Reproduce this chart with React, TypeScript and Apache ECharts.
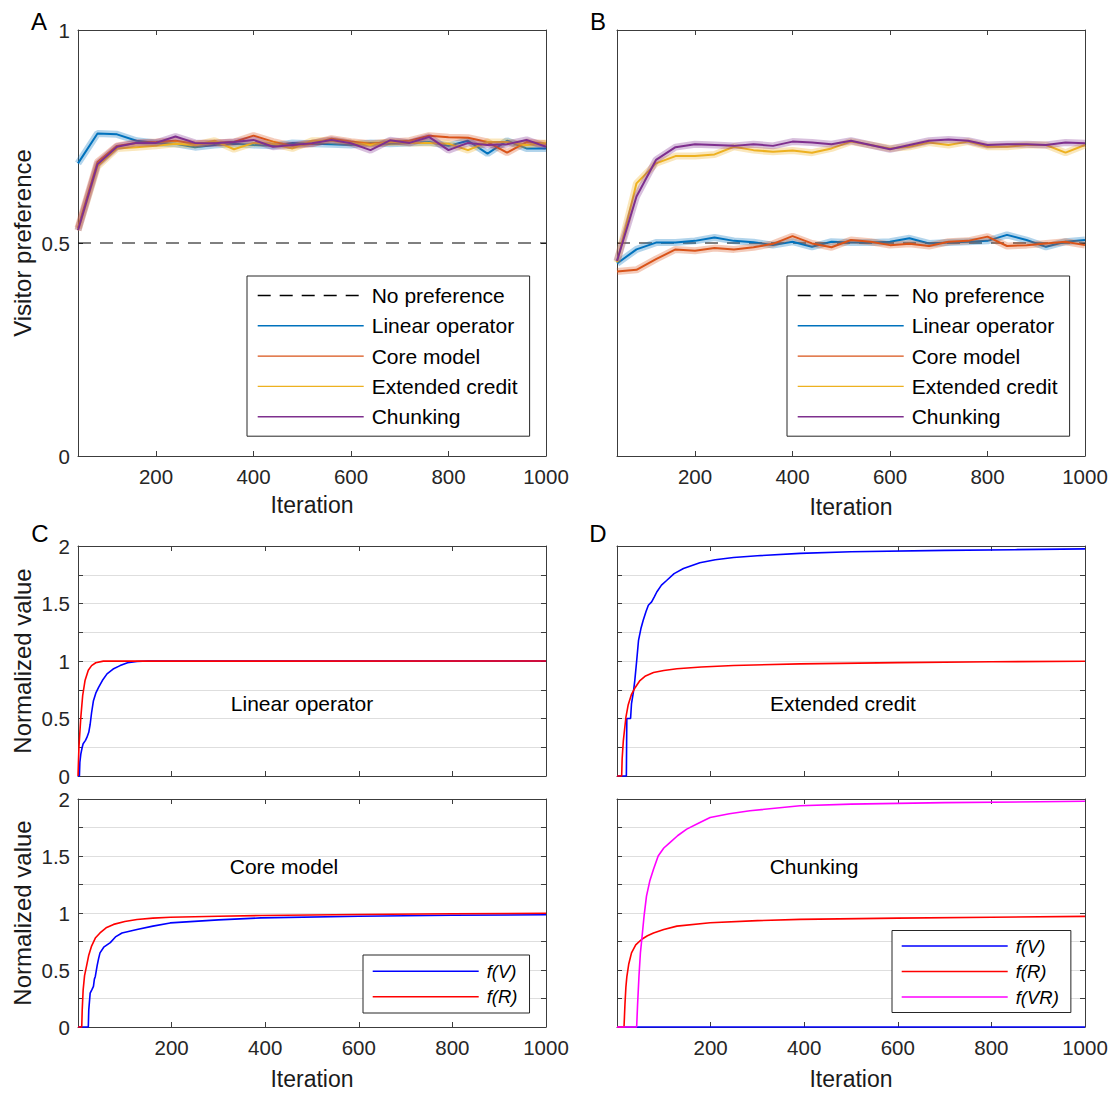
import React, { useEffect, useRef } from "react";
import * as echarts from "echarts";

// ---------- data ----------
const iterations = [40, 80, 120, 160, 200, 240, 280, 320, 360, 400, 440, 480, 520, 560, 600, 640, 680, 720, 760, 800, 840, 880, 920, 960, 1000];

// Panel A (visitor preference)
const aLinear = [0.687, 0.757, 0.755, 0.740, 0.735, 0.733, 0.725, 0.730, 0.733, 0.730, 0.728, 0.735, 0.733, 0.732, 0.730, 0.735, 0.733, 0.735, 0.737, 0.728, 0.740, 0.710, 0.740, 0.722, 0.722];
const aCore = [0.535, 0.690, 0.728, 0.735, 0.737, 0.740, 0.733, 0.735, 0.737, 0.752, 0.738, 0.728, 0.733, 0.745, 0.738, 0.733, 0.737, 0.740, 0.752, 0.748, 0.747, 0.737, 0.712, 0.737, 0.733];
const aExtended = [0.530, 0.680, 0.722, 0.725, 0.728, 0.733, 0.730, 0.740, 0.720, 0.735, 0.733, 0.722, 0.740, 0.740, 0.735, 0.730, 0.737, 0.735, 0.735, 0.733, 0.718, 0.737, 0.737, 0.730, 0.735];
const aChunking = [0.530, 0.685, 0.726, 0.735, 0.735, 0.750, 0.735, 0.734, 0.737, 0.742, 0.726, 0.730, 0.734, 0.742, 0.734, 0.718, 0.741, 0.735, 0.749, 0.718, 0.735, 0.730, 0.732, 0.742, 0.726];

// Panel B (visitor preference)
const bLinear = [0.452, 0.485, 0.501, 0.501, 0.505, 0.513, 0.505, 0.502, 0.495, 0.503, 0.491, 0.503, 0.501, 0.501, 0.503, 0.511, 0.499, 0.501, 0.503, 0.505, 0.519, 0.507, 0.491, 0.503, 0.507];
const bCore = [0.433, 0.437, 0.462, 0.485, 0.482, 0.488, 0.485, 0.490, 0.498, 0.516, 0.499, 0.490, 0.507, 0.503, 0.495, 0.498, 0.493, 0.503, 0.505, 0.515, 0.493, 0.495, 0.499, 0.503, 0.495];
const bExtended = [0.455, 0.640, 0.687, 0.704, 0.704, 0.708, 0.726, 0.718, 0.714, 0.717, 0.712, 0.722, 0.738, 0.730, 0.722, 0.726, 0.736, 0.730, 0.738, 0.726, 0.726, 0.730, 0.730, 0.712, 0.730];
const bChunking = [0.458, 0.609, 0.695, 0.725, 0.732, 0.730, 0.728, 0.732, 0.728, 0.738, 0.736, 0.732, 0.740, 0.730, 0.720, 0.730, 0.740, 0.743, 0.740, 0.730, 0.732, 0.732, 0.730, 0.736, 0.734];

const noPreference = [[40, 0.5], [1000, 0.5]];

// Panel C top: Linear operator  [iteration, value]
const cLinearV = [[0, 0], [3, 0], [4, 0.12], [6, 0.19], [9, 0.25], [11, 0.28], [16, 0.31], [19, 0.335], [23, 0.38], [26, 0.45], [29, 0.55], [33, 0.655], [38, 0.72], [44, 0.77], [52, 0.83], [62, 0.888], [75, 0.93], [90, 0.96], [106, 0.985], [126, 0.996], [150, 1.0], [1000, 1.0]];
const cLinearR = [[0, 0], [2, 0.25], [6, 0.51], [10, 0.7], [15, 0.83], [22, 0.92], [29, 0.96], [38, 0.985], [54, 0.999], [1000, 1.0]];

// Panel C bottom: Core model
const cCoreV = [[0, 0], [22, 0], [23, 0.15], [26, 0.297], [30, 0.33], [33, 0.356], [35, 0.42], [37, 0.444], [41, 0.54], [44, 0.6], [47, 0.65], [55, 0.7], [69, 0.74], [80, 0.79], [94, 0.825], [110, 0.84], [126, 0.855], [160, 0.885], [197, 0.913], [300, 0.94], [391, 0.957], [600, 0.972], [800, 0.98], [1000, 0.985]];
const cCoreR = [[0, 0], [8, 0], [9, 0.15], [11, 0.326], [14, 0.45], [18, 0.53], [23, 0.63], [29, 0.71], [37, 0.78], [47, 0.825], [60, 0.87], [76, 0.9], [100, 0.925], [126, 0.943], [160, 0.955], [197, 0.963], [300, 0.972], [391, 0.978], [600, 0.987], [800, 0.993], [1000, 0.998]];

// Panel D top: Extended credit
const dExtendedV = [[0, 0], [20, 0], [21, 0.5], [29, 0.5], [31, 0.63], [35, 0.73], [38, 0.83], [42, 1.0], [46, 1.18], [51, 1.28], [56, 1.354], [62, 1.43], [67, 1.485], [74, 1.514], [80, 1.56], [85, 1.6], [95, 1.66], [106, 1.7], [122, 1.76], [142, 1.805], [177, 1.855], [210, 1.88], [249, 1.9], [300, 1.915], [391, 1.936], [500, 1.95], [700, 1.962], [850, 1.968], [1000, 1.975]];
const dExtendedR = [[0, 0], [10, 0], [11, 0.15], [13.5, 0.306], [19, 0.509], [24, 0.62], [31, 0.71], [39, 0.77], [49, 0.83], [61, 0.87], [78, 0.9], [100, 0.918], [128, 0.932], [180, 0.948], [249, 0.961], [391, 0.975], [600, 0.986], [800, 0.993], [1000, 0.998]];

// Panel D bottom: Chunking
const dChunkingV = [[0, 0], [1000, 0]];
const dChunkingR = [[0, 0], [15, 0], [17, 0.2], [19, 0.35], [21, 0.44], [25, 0.55], [31, 0.65], [40, 0.72], [53, 0.77], [65, 0.8], [78, 0.825], [100, 0.855], [128, 0.885], [199, 0.915], [300, 0.933], [391, 0.944], [600, 0.955], [800, 0.963], [1000, 0.97]];
const dChunkingVR = [[0, 0], [42, 0], [44, 0.2], [47, 0.45], [50, 0.65], [53, 0.77], [58, 0.98], [63, 1.148], [70, 1.28], [78, 1.383], [88, 1.5], [100, 1.57], [113, 1.618], [130, 1.68], [149, 1.736], [175, 1.79], [199, 1.838], [240, 1.87], [284, 1.897], [391, 1.941], [500, 1.955], [700, 1.968], [1000, 1.98]];

const prefNames = ["No preference", "Linear operator", "Core model", "Extended credit", "Chunking"];
const prefColors = ["#000000", "#0072BD", "#D95319", "#EDB120", "#7E2F8E"];
const prefXTicks = [200, 400, 600, 800, 1000];
const normXTicks = [200, 400, 600, 800, 1000];

// ---------- styling ----------
const FONT = "'Liberation Sans', Arial, Helvetica, sans-serif";
const AXIS_COLOR = "#3c3c3c";
const TEXT_COLOR = "#262626";

const grids = [
  { left: 78, top: 30, width: 468, height: 426 }, // A
  { left: 617, top: 30, width: 468, height: 426 }, // B
  { left: 78, top: 546, width: 468, height: 230 }, // C top
  { left: 617, top: 546, width: 468, height: 230 }, // D top
  { left: 78, top: 799, width: 468, height: 228 }, // C bottom
  { left: 617, top: 799, width: 468, height: 228 }, // D bottom
];

function buildOption() {
  const xAxis: any[] = [];
  const yAxis: any[] = [];
  const lineAxis = { show: true, onZero: false, lineStyle: { color: AXIS_COLOR, width: 1 } };
  const labelBase = { fontSize: 20.5, color: TEXT_COLOR, fontFamily: FONT };

  function addX(gi: number, min: number, max: number, ticks: number[], labels: boolean, name?: string, nameGap?: number) {
    const base: any = {
      type: "value",
      gridIndex: gi,
      min,
      max,
      axisLine: lineAxis,
      splitLine: { show: false },
      axisTick: { show: true, inside: true, length: 5, customValues: ticks, lineStyle: { color: AXIS_COLOR } },
    };
    xAxis.push({
      ...base,
      position: "bottom",
      axisLabel: { show: labels, customValues: ticks, margin: 10, ...labelBase, formatter: (v: number) => String(v) },
      name: name || "",
      nameLocation: "middle",
      nameGap: nameGap || 0,
      nameMoveOverlap: false,
      nameTextStyle: { fontSize: 23, color: "#1a1a1a", fontFamily: FONT },
    });
    xAxis.push({ ...base, position: "top", axisLabel: { show: false } });
  }

  function addY(gi: number, max: number, interval: number, labels: boolean, grid: boolean, name?: string) {
    const base: any = {
      type: "value",
      gridIndex: gi,
      min: 0,
      max,
      interval,
      axisLine: lineAxis,
      axisTick: { show: true, inside: true, length: 5, lineStyle: { color: AXIS_COLOR } },
    };
    yAxis.push({
      ...base,
      position: "left",
      splitLine: { show: grid, lineStyle: { color: "#dedede", width: 1 } },
      axisLabel: {
        show: labels,
        margin: 8,
        ...labelBase,
        formatter: (v: number) => (Math.abs(v * 2 - Math.round(v * 2)) < 1e-9 ? String(v) : ""),
      },
      name: name || "",
      nameLocation: "middle",
      nameGap: 44,
      nameMoveOverlap: false,
      nameTextStyle: { fontSize: 24, color: "#1a1a1a", fontFamily: FONT },
    });
    yAxis.push({ ...base, position: "right", splitLine: { show: false }, axisLabel: { show: false } });
  }

  // A, B
  addX(0, 40, 1000, prefXTicks, true, "Iteration", 37.5);
  addY(0, 1, 0.5, true, false, "Visitor preference");
  addX(1, 40, 1000, prefXTicks, true, "Iteration", 39.5);
  addY(1, 1, 0.5, false, false);
  // C top, D top
  addX(2, 0, 1000, normXTicks, false);
  addY(2, 2, 0.25, true, true, "Normalized value");
  addX(3, 0, 1000, normXTicks, false);
  addY(3, 2, 0.25, false, true);
  // C bottom, D bottom
  addX(4, 0, 1000, normXTicks, true, "Iteration", 40.5);
  addY(4, 2, 0.25, true, true, "Normalized value");
  addX(5, 0, 1000, normXTicks, true, "Iteration", 40.5);
  addY(5, 2, 0.25, false, true);

  const series: any[] = [];
  const ax = (gi: number) => ({ xAxisIndex: gi * 2, yAxisIndex: gi * 2 });

  function prefPanel(gi: number, arrays: number[][]) {
    series.push({
      type: "line",
      name: prefNames[0],
      ...ax(gi),
      data: noPreference,
      symbol: "none",
      lineStyle: { color: "#000", width: 1, type: [13, 9] },
      itemStyle: { color: "#000" },
      z: 1,
    });
    arrays.forEach((arr, i) => {
      const color = prefColors[i + 1];
      const pts = iterations.map((it, k) => [it, arr[k]]);
      series.push({
        type: "line",
        name: prefNames[i + 1] + " band",
        ...ax(gi),
        data: pts,
        symbol: "none",
        silent: true,
        lineStyle: { color, width: 7, opacity: 0.3 },
        z: 2,
      });
      series.push({
        type: "line",
        name: prefNames[i + 1],
        ...ax(gi),
        data: pts,
        symbol: "none",
        lineStyle: { color, width: 2 },
        itemStyle: { color },
        z: 2,
      });
    });
  }
  prefPanel(0, [aLinear, aCore, aExtended, aChunking]);
  prefPanel(1, [bLinear, bCore, bExtended, bChunking]);

  function normLine(gi: number, name: string, color: string, data: number[][]) {
    series.push({
      type: "line",
      name,
      ...ax(gi),
      data,
      symbol: "none",
      clip: false,
      lineStyle: { color, width: 1.6 },
      itemStyle: { color },
      z: 3,
    });
  }
  normLine(2, "f(V)", "#0000ff", cLinearV);
  normLine(2, "f(R)", "#ff0000", cLinearR);
  normLine(3, "f(V)", "#0000ff", dExtendedV);
  normLine(3, "f(R)", "#ff0000", dExtendedR);
  normLine(4, "f(V)", "#0000ff", cCoreV);
  normLine(4, "f(R)", "#ff0000", cCoreR);
  normLine(5, "f(V)", "#0000ff", dChunkingV);
  normLine(5, "f(R)", "#ff0000", dChunkingR);
  normLine(5, "f(VR)", "#ff00ff", dChunkingVR);

  const prefLegend = (left: number) => ({
    left,
    top: 276,
    orient: "vertical",
    data: prefNames,
    itemWidth: 106,
    itemHeight: 14,
    itemGap: 9.3,
    padding: [9, 12, 9, 10],
    borderColor: "#262626",
    borderWidth: 1,
    backgroundColor: "#ffffff",
    selectedMode: false,
    itemStyle: { opacity: 0 },
    lineStyle: { width: 1.4 },
    textStyle: { fontSize: 21, color: "#000", fontFamily: FONT, padding: [0, 0, 0, 3] },
    z: 10,
  });
  const normLegend = (left: number, top: number, names: string[], pad: number) => ({
    left,
    top,
    orient: "vertical",
    data: names,
    itemWidth: 106,
    itemHeight: 14,
    itemGap: 6.5,
    padding: [pad, 12, pad, 9],
    borderColor: "#262626",
    borderWidth: 1,
    backgroundColor: "#ffffff",
    selectedMode: false,
    itemStyle: { opacity: 0 },
    lineStyle: { width: 1.4 },
    textStyle: { fontSize: 18.5, fontStyle: "italic", color: "#000", fontFamily: FONT, padding: [0, 0, 0, 3] },
    z: 10,
  });

  const label = (text: string, x: number, y: number, size: number) => ({
    type: "text",
    x,
    y,
    z: 20,
    style: { text, font: `${size}px ${FONT}`, fill: "#000", align: "center", verticalAlign: "middle" },
  });

  return {
    animation: false,
    backgroundColor: "#ffffff",
    grid: grids.map((g) => ({ ...g, containLabel: false, outerBoundsMode: "none" })),
    xAxis,
    yAxis,
    series,
    legend: [
      prefLegend(247),
      prefLegend(787),
      normLegend(363, 955, ["f(V)", "f(R)"], 6.75),
      normLegend(892, 930.5, ["f(V)", "f(R)", "f(VR)"], 6),
    ],
    graphic: [
      label("A", 39, 21, 24),
      label("B", 598, 21, 24),
      label("C", 40, 533, 24),
      label("D", 598, 533, 24),
      label("Linear operator", 302, 703, 21),
      label("Extended credit", 843, 703, 21),
      label("Core model", 284, 866, 21),
      label("Chunking", 814, 866, 21),
    ],
  };
}

export default function App() {
  const ref = useRef<HTMLDivElement>(null);
  useEffect(() => {
    if (!ref.current) return;
    const chart = echarts.init(ref.current, undefined, { renderer: "svg" });
    chart.setOption(buildOption() as any);
    return () => chart.dispose();
  }, []);
  return (
    <div
      ref={ref}
      style={{ position: "fixed", left: 0, top: 0, width: 1113, height: 1093, background: "#fff" }}
    />
  );
}
